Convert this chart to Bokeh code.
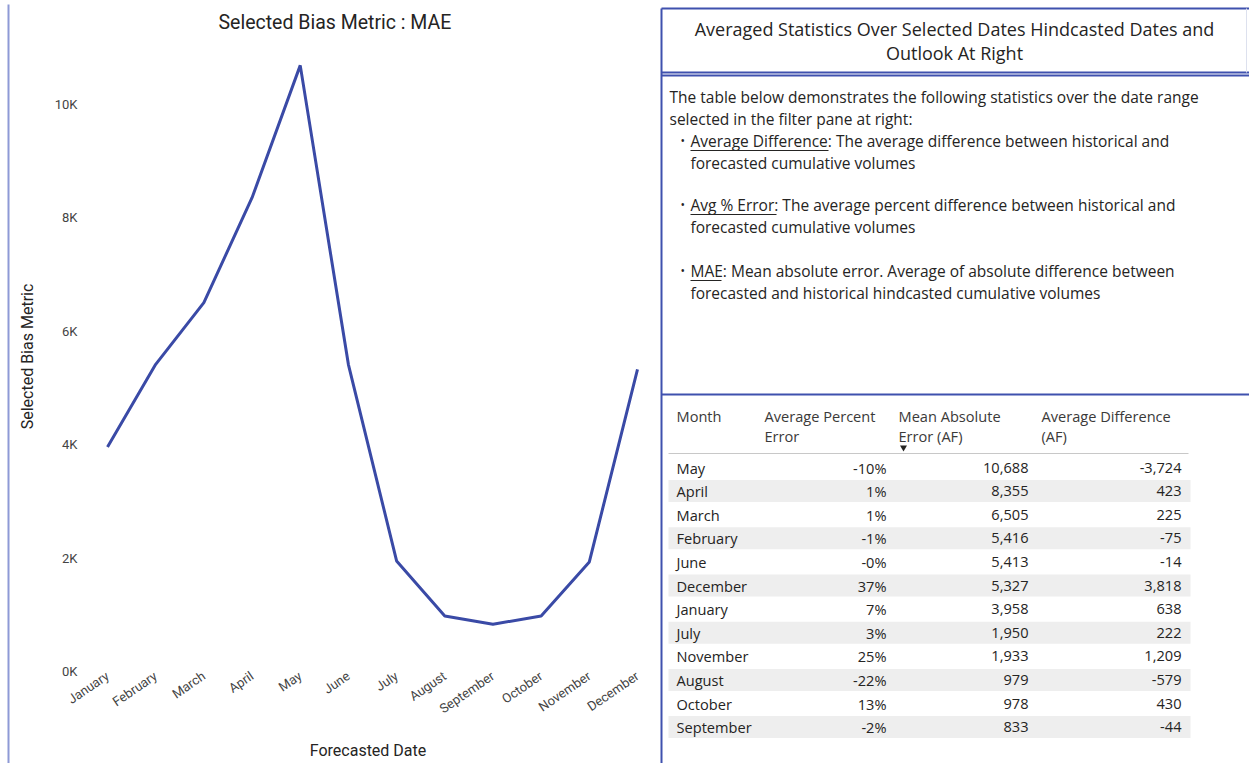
from bokeh.plotting import figure
from bokeh.layouts import row
from bokeh.models import Range1d, FixedTicker, ColumnDataSource
from bokeh.core.properties import value
from bokeh.embed import file_html
from bokeh.resources import INLINE

# ---------------- data ----------------
months = ["January", "February", "March", "April", "May", "June", "July",
          "August", "September", "October", "November", "December"]
mae_by_month = [3958, 5416, 6505, 8355, 10688, 5413, 1950, 979, 833, 978, 1933, 5327]
y_ticks = [0, 2000, 4000, 6000, 8000, 10000]
y_tick_labels = ["0K", "2K", "4K", "6K", "8K", "10K"]

table_months = ["May", "April", "March", "February", "June", "December", "January",
                "July", "November", "August", "October", "September"]
table_pct = [-10, 1, 1, -1, -0.2, 37, 7, 3, 25, -22, 13, -2]
table_mae = [10688, 8355, 6505, 5416, 5413, 5327, 3958, 1950, 1933, 979, 978, 833]
table_diff = [-3724, 423, 225, -75, -14, 3818, 638, 222, 1209, -579, 430, -44]

title_lines = ["Averaged Statistics Over Selected Dates Hindcasted Dates and",
               "Outlook At Right"]
intro_lines = ["The table below demonstrates the following statistics over the date range",
               "selected in the filter pane at right:"]
bullet_terms = ["Average Difference", "Avg % Error", "MAE"]
bullet_rest = [[": The average difference between historical and", "forecasted cumulative volumes"],
               [": The average percent difference between historical and", "forecasted cumulative volumes"],
               [": Mean absolute error. Average of absolute difference between",
                "forecasted and historical hindcasted cumulative volumes"]]
headers = [["Month"], ["Average Percent", "Error"], ["Mean Absolute", "Error (AF)"],
           ["Average Difference", "(AF)"]]

# ---------------- styles ----------------
H = 763
TXT = "#252423"
BLUE = "#3F51AE"
UI_FONT = "Open Sans"
CH_FONT = "Roboto"

# left border strip
strip = figure(width=10, height=H, x_range=Range1d(0, 10), y_range=Range1d(H, 0),
               x_axis_type=None, y_axis_type=None, toolbar_location=None,
               output_backend="svg", min_border=0, outline_line_color=None,
               frame_align=False)
strip.segment(x0=[8], y0=[4], x1=[8], y1=[H], line_color="#8E9AD6", line_width=2)

# ---------------- chart ----------------
p = figure(width=645, height=H, x_range=Range1d(-0.353, 11.166), y_range=Range1d(0, 11109),
           toolbar_location=None, output_backend="svg",
           min_border_left=80, min_border_right=10, min_border_top=40, min_border_bottom=92,
           title="Selected Bias Metric : MAE", frame_align=False)
p.line(x=list(range(len(months))), y=mae_by_month, line_color="#3A4AA6", line_width=3)
p.grid.visible = False
p.outline_line_color = None
p.title.align = "left"
p.title.text_font = CH_FONT
p.title.text_font_size = "19.5px"
p.title.text_color = TXT
p.title.text_font_style = "normal"
p.title.offset = 128
p.title.standoff = 16

p.xaxis.ticker = FixedTicker(ticks=list(range(len(months))))
p.xaxis.major_label_overrides = {i: m for i, m in enumerate(months)}
p.xaxis.major_label_orientation = 0.6
p.yaxis.ticker = FixedTicker(ticks=y_ticks)
p.yaxis.major_label_overrides = dict(zip(y_ticks, y_tick_labels))
for ax in (p.xaxis, p.yaxis):
    ax.axis_line_color = None
    ax.major_tick_line_color = None
    ax.minor_tick_line_color = None
    ax.major_tick_out = 0
    ax.major_tick_in = 0
    ax.minor_tick_out = 0
    ax.minor_tick_in = 0
    ax.major_label_text_font = CH_FONT
    ax.major_label_text_font_size = "13px"
    ax.major_label_text_color = "#444444"
    ax.axis_label_text_font = CH_FONT
    ax.axis_label_text_font_size = "16px"
    ax.axis_label_text_font_style = "normal"
    ax.axis_label_text_color = TXT
p.xaxis.axis_label = "Forecasted Date"
p.yaxis.axis_label = "Selected Bias Metric"
p.yaxis.major_label_standoff = 13
p.yaxis.axis_label_standoff = 15
p.xaxis.major_label_standoff = 3
p.xaxis.axis_label_standoff = 16

# ---------------- right panel ----------------
r = figure(width=594, height=H, x_range=Range1d(655, 1249), y_range=Range1d(H, 0),
           x_axis_type=None, y_axis_type=None, toolbar_location=None,
           output_backend="svg", min_border=0, outline_line_color=None,
           frame_align=False)

# borders
r.segment(x0=[661], y0=[8], x1=[661], y1=[H], line_color=BLUE, line_width=2)
r.segment(x0=[661, 661, 661, 661], y0=[8, 72, 75, 394], x1=[1249, 1249, 1249, 1249],
          y1=[8, 72, 75, 394], line_color=BLUE, line_width=2)
r.segment(x0=[1246], y0=[8], x1=[1246], y1=[72], line_color="#DDE1EE", line_width=1)

# header box
r.text(x=[954] * len(title_lines), y=[28 + 24 * i for i in range(len(title_lines))], text=title_lines,
       text_align="center", text_baseline="middle", text_font=value(UI_FONT),
       text_font_size="18px", text_color=TXT)

# description text
LH = 22
DESC = "15.5px"
r.text(x=[669] * 2, y=[96, 96 + LH], text=intro_lines, text_align="left", text_baseline="middle",
       text_font=value(UI_FONT), text_font_size=DESC, text_color=TXT)
bullet_y = [140, 204, 270]
underline_len = [138, 86, 31]
for by, term, rest, ul in zip(bullet_y, bullet_terms, bullet_rest, underline_len):
    r.text(x=[680], y=[by], text=["\u2022"], text_align="left", text_baseline="middle",
           text_font=value(UI_FONT), text_font_size="12px", text_color=TXT)
    r.text(x=[690, 690], y=[by, by + LH], text=[term + rest[0], rest[1]], text_align="left",
           text_baseline="middle", text_font=value(UI_FONT), text_font_size=DESC, text_color=TXT)
    r.segment(x0=[690], y0=[by + 10], x1=[690 + ul], y1=[by + 10], line_color=TXT, line_width=1)

# table
TBL = "14.6px"
hdr_x = [676, 764, 898, 1041]
for hx, lines in zip(hdr_x, headers):
    r.text(x=[hx] * len(lines), y=[415 + 20 * i for i in range(len(lines))], text=lines,
           text_align="left", text_baseline="middle", text_font=value(UI_FONT),
           text_font_size=TBL, text_color="#3B3A39")
r.segment(x0=[668], y0=[453], x1=[1188], y1=[453], line_color="#C8C8C8", line_width=1)
r.scatter(x=[903], y=[447], marker="triangle", size=7, angle=3.14159, fill_color="#252423",
          line_color=None)

row_y = [467 + 23.6 * i for i in range(len(table_months))]
shade_y = [yy for i, yy in enumerate(row_y) if i % 2 == 1]
r.rect(x=[929] * len(shade_y), y=shade_y, width=522, height=22, fill_color="#EEEEEE",
       line_color=None)

src = ColumnDataSource(dict(
    y=row_y,
    month=table_months,
    pct=[f"{v:.0f}%" for v in table_pct],
    mae=[f"{v:,}" for v in table_mae],
    diff=[f"{v:,}" for v in table_diff],
))
common = dict(y="y", source=src, text_baseline="middle", text_font=value(UI_FONT),
              text_font_size=TBL, text_color=TXT)
r.text(x=676, text="month", text_align="left", **common)
r.text(x=886, text="pct", text_align="right", **common)
r.text(x=1028, text="mae", text_align="right", **common)
r.text(x=1181, text="diff", text_align="right", **common)

layout = row(strip, p, r, spacing=0)
open("out.html", "w").write(file_html(layout, INLINE))
